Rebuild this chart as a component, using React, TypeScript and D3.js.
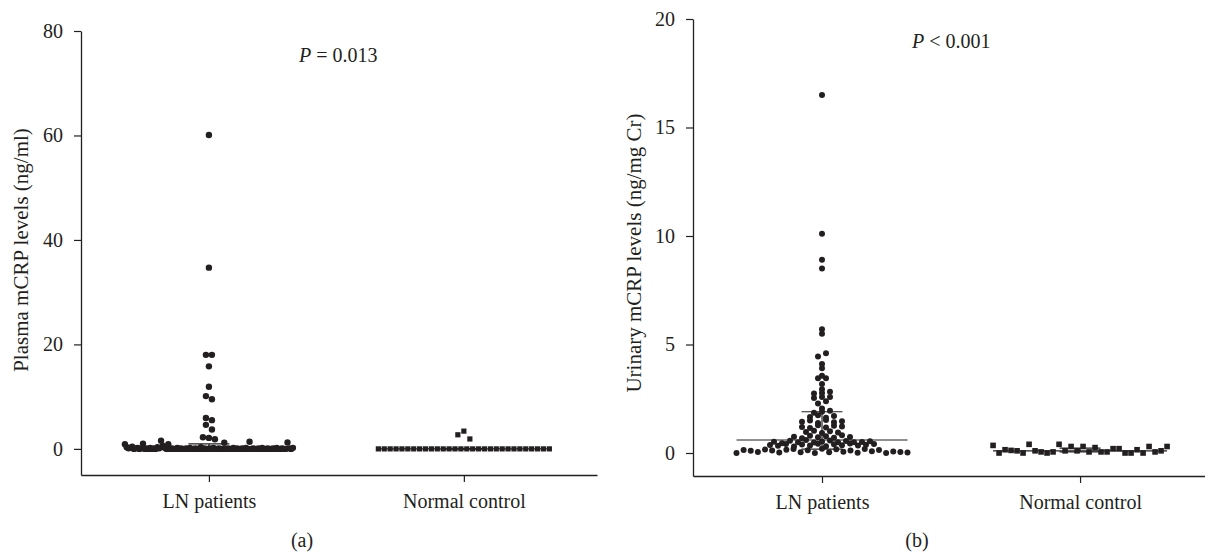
import * as d3 from 'd3';
import { useEffect, useRef } from 'react';

const groups = ['LN patients', 'Normal control'];

// (a) plasma mCRP (ng/ml); row at zero listed left to right
const plasmaLN = [
  0.9, 0.3, 0.1, 0.2, 0.4, 0, 0.1, 0.2, 0, 0.1,
  1.0, 0, 0.1, 0, 0.2, 0, 0.1, 0, 0.3, 0.1,
  1.56, 0.6, 0.2, 0, 0.9,
  0, 0.1, 0, 0, 0.2, 0, 0.1, 0, 0, 0.1, 0, 0.2, 0, 0, 0.1,
  0, 0, 0.3, 0, 0.1, 0, 0, 0.1, 0, 0.2, 0, 0, 0.1, 0, 0,
  1.16, 0, 0.1, 0, 0, 0.2, 0, 0.1, 0, 0, 0.1, 0, 0.2, 0,
  1.36, 0, 0.1, 0, 0, 0.1, 0, 0.2, 0, 0, 0.1,
  0, 0, 0.1, 0, 0.2, 0, 0, 0.1, 0, 0,
  1.22, 0.1, 0, 0.2,
  60.1, 34.7, 18.0, 18.0, 15.8, 11.9, 10.1, 9.5, 5.9, 5.5, 4.6, 3.7, 2.24, 2.1, 1.84,
];
const plasmaNC = [
  0, 0, 0, 0, 0, 0, 0, 0, 0, 0, 0, 0, 0, 0, 0,
  0, 0, 0, 0, 0, 0, 0, 0, 0, 0, 0, 0, 0, 0, 0,
  2.7, 3.4, 1.9,
];

// (b) urinary mCRP (ng/mg Cr)
const urinaryLN = [
  0, 0.14, 0.1, 0.05, 0.16, 0.12, 0.02, 0.15, 0.18, 0.03, 0.13, 0, 0.2,
  0.04, 0.17, 0.06, 0.11, 0.01, 0.19, 0.08, 0.14, 0, 0.07, 0.05, 0.02,
  0.37, 0.33, 0.41, 0.3, 0.39, 0.35, 0.43, 0.31, 0.4, 0.36, 0.44, 0.34, 0.38, 0.42,
  0.52, 0.45, 0.56, 0.5, 0.6, 0.48, 0.53, 0.58, 0.49, 0.55, 0.5, 0.51, 0.54,
  0.75, 0.68, 0.8, 0.72, 0.77, 0.7, 0.82, 0.74,
  0.97, 1.02, 0.92, 1.0, 0.95,
  1.2, 1.15, 1.28, 1.18, 1.25, 1.22,
  1.44, 1.5, 1.38, 1.52, 1.42, 1.46,
  1.66, 1.74, 1.62, 1.7,
  1.86, 1.9, 1.95,
  2.05, 2.28, 2.38, 2.54, 2.58, 2.58, 2.74, 2.77, 2.82, 2.94, 3.18, 3.44,
  3.44, 3.56, 3.9, 4.1, 4.45, 4.6, 5.5, 5.7, 8.5, 8.9, 10.1, 16.5,
];
const urinaryNC = [
  0.35, 0.0, 0.15, 0.12, 0.1, 0.0, 0.4, 0.1, 0.05, 0.0,
  0.05, 0.4, 0.1, 0.3, 0.1, 0.3, 0.05, 0.25, 0.05, 0.05,
  0.2, 0.2, 0.0, 0.0, 0.15, 0.0, 0.3, 0.05, 0.1, 0.3,
];

// median, lower quartile, upper quartile per group
const plasmaStats = [[0, 0, 0.95], [0, 0, 0]];
const urinaryStats = [[0.6, 0.18, 1.9], [0.1, 0.05, 0.22]];

const plasmaTicks = [0, 20, 40, 60, 80];
const urinaryTicks = [0, 5, 10, 15, 20];

const ink = '#231f20';
const font = '"Liberation Serif", "DejaVu Serif", serif';
const fs = 20;

type Layout = { spacing: number; binH: number; maxW: number; size: number };

// prism-style scatter: points binned by height, each row centred on the group
function swarm(values: number[], y: d3.ScaleLinear<number, number>, cx: number, l: Layout) {
  const y0 = y(0);
  const bins = new Map<number, number[]>();
  values.forEach((v, i) => {
    const b = Math.floor((y0 - y(v)) / l.binH);
    if (!bins.has(b)) bins.set(b, []);
    bins.get(b)!.push(i);
  });
  const out: { x: number; y: number }[] = [];
  bins.forEach(idx => {
    const n = idx.length;
    const step = n > 1 ? Math.min(l.spacing, l.maxW / (n - 1)) : 0;
    idx.forEach((i, k) => out.push({ x: cx + (k - (n - 1) / 2) * step, y: y(values[i]) }));
  });
  return out;
}

interface PanelProps {
  ln: number[];
  nc: number[];
  stats: number[][];
  ticks: number[];
  yDomain: [number, number];
  yRange: [number, number];
  xRange: [number, number];
  padding: number;
  align: number;
  yTitle: string;
  yTitlePos: [number, number];
  pText: string;
  pPos: [number, number];
  label: string;
  labelPos: [number, number];
  lnLayout: Layout;
  ncLayout: Layout;
}

function Panel(p: PanelProps) {
  const yAxisRef = useRef<SVGGElement | null>(null);
  const xAxisRef = useRef<SVGGElement | null>(null);

  const y = d3.scaleLinear().domain(p.yDomain).range(p.yRange);
  const x = d3.scalePoint<string>().domain(groups).range(p.xRange).padding(p.padding).align(p.align);

  useEffect(() => {
    const style = (g: d3.Selection<SVGGElement, unknown, null, undefined>) => {
      g.select('.domain').attr('stroke', ink).attr('stroke-width', 1.3);
      g.selectAll('.tick line').attr('stroke', ink).attr('stroke-width', 1.2);
      g.selectAll('.tick text')
        .attr('fill', ink)
        .style('font-family', font)
        .style('font-size', `${fs}px`);
    };
    const ya = d3.select(yAxisRef.current!);
    ya.call(d3.axisLeft(y).tickValues(p.ticks).tickSize(7).tickSizeOuter(0).tickPadding(11));
    style(ya);
    const xa = d3.select(xAxisRef.current!);
    xa.call(d3.axisBottom(x).tickSize(7).tickSizeOuter(0).tickPadding(12));
    style(xa);
  }, []);

  const lnPts = swarm(p.ln, y, x(groups[0])!, p.lnLayout);
  const ncPts = swarm(p.nc, y, x(groups[1])!, p.ncLayout);
  const capW = 41;

  return (
    <g>
      <g ref={yAxisRef} transform={`translate(${p.xRange[0]},0)`} />
      <g ref={xAxisRef} transform={`translate(0,${p.yRange[0]})`} />

      {p.stats.map(([med, q1, q3], i) => {
        const cx = x(groups[i])!;
        const w = (i === 0 ? p.lnLayout : p.ncLayout).maxW;
        return (
          <g key={i} stroke={ink} strokeWidth={1.2}>
            <line x1={cx - w / 2} x2={cx + w / 2} y1={y(med)} y2={y(med)} />
            <line x1={cx} x2={cx} y1={y(q1)} y2={y(q3)} />
            <line x1={cx - capW / 2} x2={cx + capW / 2} y1={y(q1)} y2={y(q1)} />
            <line x1={cx - capW / 2} x2={cx + capW / 2} y1={y(q3)} y2={y(q3)} />
          </g>
        );
      })}

      {lnPts.map((d, i) => (
        <circle key={`c${i}`} cx={d.x} cy={d.y} r={p.lnLayout.size} fill={ink} />
      ))}
      {ncPts.map((d, i) => (
        <rect
          key={`s${i}`}
          x={d.x - p.ncLayout.size / 2}
          y={d.y - p.ncLayout.size / 2}
          width={p.ncLayout.size}
          height={p.ncLayout.size}
          fill={ink}
        />
      ))}

      <text
        transform={`translate(${p.yTitlePos[0]},${p.yTitlePos[1]}) rotate(-90)`}
        textAnchor="middle"
        fill={ink}
        style={{ fontFamily: font, fontSize: 21 }}
      >
        {p.yTitle}
      </text>
      <text x={p.pPos[0]} y={p.pPos[1]} fill={ink} style={{ fontFamily: font, fontSize: fs }}>
        <tspan fontStyle="italic">P</tspan>
        {p.pText}
      </text>
      <text
        x={p.labelPos[0]}
        y={p.labelPos[1]}
        textAnchor="middle"
        fill={ink}
        style={{ fontFamily: font, fontSize: fs }}
      >
        {p.label}
      </text>
    </g>
  );
}

export default function App() {
  return (
    <svg
      width={1205}
      height={557}
      style={{ position: 'absolute', left: 0, top: 0, background: '#fff' }}
    >
      <Panel
        ln={plasmaLN}
        nc={plasmaNC}
        stats={plasmaStats}
        ticks={plasmaTicks}
        yDomain={[-5, 80]}
        yRange={[475, 31]}
        xRange={[81, 597]}
        padding={0.512}
        align={0.49}
        yTitle="Plasma mCRP levels (ng/ml)"
        yTitlePos={[28, 250]}
        pText=" = 0.013"
        pPos={[299, 62]}
        label="(a)"
        labelPos={[302, 547]}
        lnLayout={{ spacing: 6, binH: 9, maxW: 168, size: 3.2 }}
        ncLayout={{ spacing: 6, binH: 9, maxW: 171, size: 5.2 }}
      />
      <Panel
        ln={urinaryLN}
        nc={urinaryNC}
        stats={urinaryStats}
        ticks={urinaryTicks}
        yDomain={[-1.06, 20]}
        yRange={[476, 19]}
        xRange={[693, 1205]}
        padding={0.492}
        align={0.508}
        yTitle="Urinary mCRP levels (ng/mg Cr)"
        yTitlePos={[641, 253]}
        pText=" < 0.001"
        pPos={[912, 48]}
        label="(b)"
        labelPos={[917, 547]}
        lnLayout={{ spacing: 8, binH: 4.8, maxW: 171, size: 3 }}
        ncLayout={{ spacing: 6, binH: 20, maxW: 174, size: 5.6 }}
      />
    </svg>
  );
}
